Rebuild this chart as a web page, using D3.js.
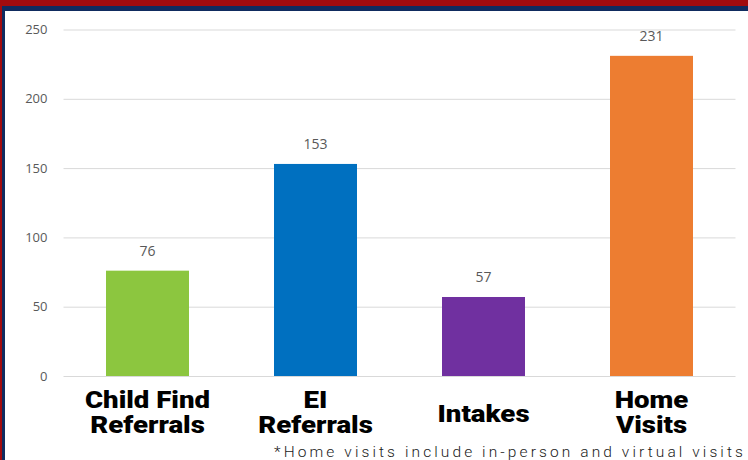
<!DOCTYPE html>
<html><head><meta charset="utf-8">
<script src="https://cdn.jsdelivr.net/npm/d3@7"></script>
<style>
html,body{margin:0;padding:0;background:#fff;}
svg{display:block;}
</style></head>
<body>
<svg id="c" width="748" height="460"></svg>
<script>
const categories = [["Child Find","Referrals"],["EI","Referrals"],["Intakes"],["Home","Visits"]];
const values = [76, 153, 57, 231];
const colors = ["#8cc63f", "#0070c0", "#7030a0", "#ed7d31"];
const tickValues = [0, 50, 100, 150, 200, 250];
const footnote = "*Home visits include in-person and virtual visits";

(function(){
const svg = d3.select("#c");
const W = 748, H = 460;

// frame
svg.append("rect").attr("x",0).attr("y",0).attr("width",W).attr("height",H).attr("fill","#fff");
svg.append("rect").attr("x",0).attr("y",0).attr("width",W).attr("height",7).attr("fill","#a10b0e");
svg.append("rect").attr("x",0).attr("y",6).attr("width",W).attr("height",5).attr("fill","#0f2b5f");
svg.append("rect").attr("x",0).attr("y",0).attr("width",2).attr("height",H).attr("fill","#a10b0e");
svg.append("rect").attr("x",2).attr("y",6).attr("width",3).attr("height",H).attr("fill","#0f2b5f");

const pLeft = 63.5, pRight = 735.5, pTop = 29.5, pBottom = 376;
const x = d3.scaleBand().domain(d3.range(values.length)).range([pLeft, pRight]).paddingInner(0.506).paddingOuter(0.253);
const y = d3.scaleLinear().domain([0, 250]).range([pBottom, pTop]);

const gy = svg.append("g").attr("transform", `translate(${pLeft},0)`)
  .call(d3.axisLeft(y).tickValues(tickValues).tickSize(-(pRight-pLeft)).tickPadding(16));
gy.select(".domain").remove();
gy.selectAll(".tick line").attr("stroke","#d9d9d9").attr("stroke-width",1);
gy.selectAll(".tick text").attr("fill","#595959").style("font-family","'Open Sans', sans-serif").style("font-size","13px");

svg.selectAll("rect.bar").data(values).join("rect").attr("class","bar")
  .attr("x",(d,i)=>x(i)).attr("width",x.bandwidth())
  .attr("y",d=>y(d)).attr("height",d=>pBottom-y(d))
  .attr("fill",(d,i)=>colors[i]);

svg.selectAll("text.val").data(values).join("text").attr("class","val")
  .attr("x",(d,i)=>x(i)+x.bandwidth()/2).attr("y",d=>y(d)-15)
  .attr("text-anchor","middle").attr("fill","#595959")
  .style("font-family","'Open Sans', sans-serif").style("font-size","14px")
  .text(d=>d);

const cat = svg.selectAll("text.cat").data(categories).join("text").attr("class","cat")
  .attr("text-anchor","middle").attr("fill","#000")
  .style("font-family","Roboto, 'Liberation Sans', sans-serif").style("font-weight","900").style("font-size","24px")
  .attr("transform",(d,i)=>`translate(${x(i)+x.bandwidth()/2},0) scale(1.15,1)`);
cat.each(function(d){
  const t = d3.select(this);
  if (d.length === 1) {
    t.append("tspan").attr("x",0).attr("y",422).text(d[0]);
  } else {
    d.forEach((s,j)=>t.append("tspan").attr("x",0).attr("y",408+j*25).text(s));
  }
});

svg.append("text").attr("x",746).attr("y",457).attr("text-anchor","end")
  .attr("fill","#1a1a1a")
  .style("font-family","Roboto, sans-serif").style("font-weight","300").style("font-size","15.5px")
  .style("letter-spacing","3.1px")
  .text(footnote);
})();
</script>
</body></html>
